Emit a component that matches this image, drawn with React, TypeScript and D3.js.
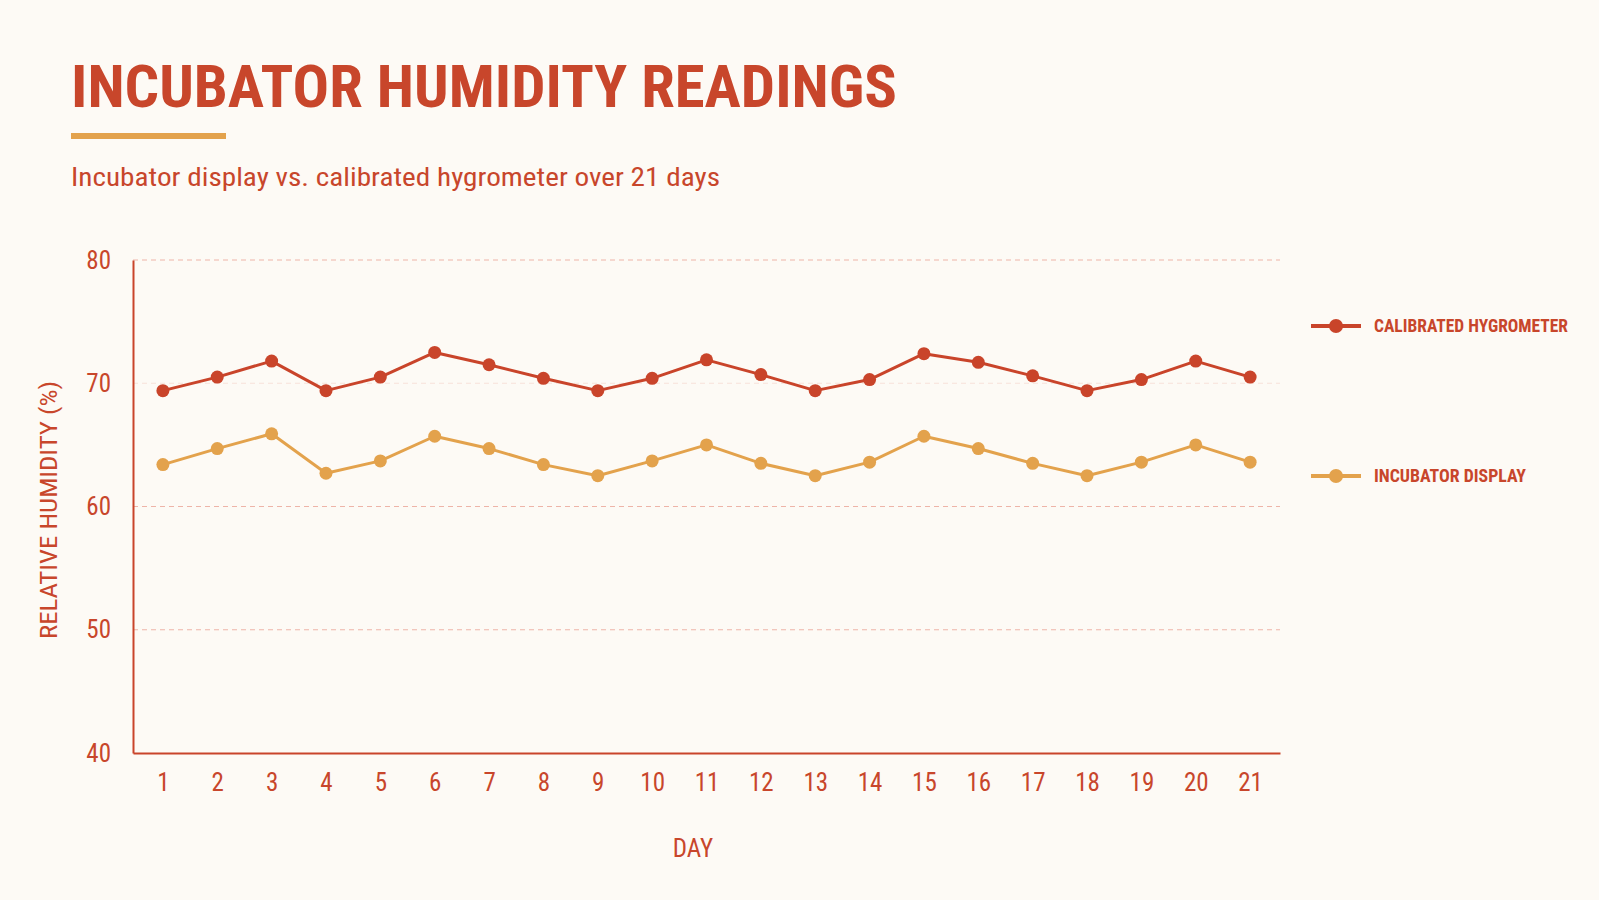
import { useEffect, useRef } from 'react'
import * as d3 from 'd3'

// values
const days = [1, 2, 3, 4, 5, 6, 7, 8, 9, 10, 11, 12, 13, 14, 15, 16, 17, 18, 19, 20, 21]
const hygrometer = [69.4, 70.5, 71.8, 69.4, 70.5, 72.5, 71.5, 70.4, 69.4, 70.4, 71.9, 70.7, 69.4, 70.3, 72.4, 71.7, 70.6, 69.4, 70.3, 71.8, 70.5]
const display = [63.4, 64.7, 65.9, 62.7, 63.7, 65.7, 64.7, 63.4, 62.5, 63.7, 65.0, 63.5, 62.5, 63.6, 65.7, 64.7, 63.5, 62.5, 63.6, 65.0, 63.6]
const yTicks = [40, 50, 60, 70, 80]
const seriesNames = ['CALIBRATED HYGROMETER', 'INCUBATOR DISPLAY']

const RED = '#c9442a'
const ORANGE = '#e3a24c'
const TEXT = '#c8462b'
const BG = '#fdfaf5'
const FONT = '"Roboto Condensed", "Liberation Sans Narrow", "DejaVu Sans Condensed", Roboto, sans-serif'

export default function App() {
  const svgRef = useRef<SVGSVGElement>(null)
  const width = 1599
  const height = 900

  useEffect(() => {
    document.body.style.margin = '0'
    document.body.style.background = BG
    if (!svgRef.current) return

    const svg = d3.select(svgRef.current)
    svg.selectAll('*').remove()

    const margin = { top: 260, right: 319, bottom: 147, left: 133 }
    const innerWidth = width - margin.left - margin.right
    const innerHeight = height - margin.top - margin.bottom

    svg.append('rect').attr('width', width).attr('height', height).attr('fill', BG)

    // header
    svg.append('text')
      .attr('x', 71).attr('y', 107)
      .attr('font-family', FONT).attr('font-weight', 700).attr('font-size', 60)
      .attr('fill', TEXT)
      .attr('textLength', 826).attr('lengthAdjust', 'spacingAndGlyphs')
      .text('INCUBATOR HUMIDITY READINGS')

    svg.append('rect')
      .attr('x', 71).attr('y', 133).attr('width', 155).attr('height', 6)
      .attr('fill', ORANGE)

    svg.append('text')
      .attr('x', 71).attr('y', 186)
      .attr('font-family', FONT).attr('font-size', 26)
      .attr('fill', TEXT)
      .attr('textLength', 649).attr('lengthAdjust', 'spacingAndGlyphs')
      .text('Incubator display vs. calibrated hygrometer over 21 days')

    const x = d3.scalePoint<number>()
      .domain(days)
      .range([0, innerWidth])
      .padding(0.55)

    const y = d3.scaleLinear()
      .domain([40, 80])
      .range([innerHeight, 0])

    const g = svg.append('g')
      .attr('transform', `translate(${margin.left},${margin.top})`)

    // grid
    g.selectAll('.grid')
      .data(yTicks.filter(t => t > 40))
      .enter().append('line')
      .attr('class', 'grid')
      .attr('x1', 0).attr('x2', innerWidth)
      .attr('y1', d => y(d)).attr('y2', d => y(d))
      .attr('stroke', '#eeb4a8')
      .attr('stroke-width', 1)
      .attr('stroke-dasharray', '5,4')
      .attr('opacity', d => (d === 70 ? 0.35 : 1))

    // axes
    const yAxis = g.append('g')
      .call(d3.axisLeft(y).tickValues(yTicks).tickSize(0).tickPadding(22))
    yAxis.select('.domain').attr('stroke', RED).attr('stroke-width', 2)
    yAxis.selectAll('text')
      .attr('font-family', FONT).attr('font-size', 25).attr('fill', TEXT)

    const xAxis = g.append('g')
      .attr('transform', `translate(0,${innerHeight})`)
      .call(d3.axisBottom(x).tickSize(0).tickPadding(20))
    xAxis.select('.domain').attr('stroke', RED).attr('stroke-width', 2)
    xAxis.selectAll('text')
      .attr('font-family', FONT).attr('font-size', 25).attr('fill', TEXT)

    g.append('text')
      .attr('transform', `translate(${49 - margin.left},${510 - margin.top}) rotate(-90)`)
      .attr('text-anchor', 'middle').attr('dominant-baseline', 'central')
      .attr('font-family', FONT).attr('font-size', 24).attr('fill', TEXT)
      .attr('textLength', 258).attr('lengthAdjust', 'spacingAndGlyphs')
      .text('RELATIVE HUMIDITY (%)')

    g.append('text')
      .attr('x', 693 - margin.left).attr('y', 857 - margin.top)
      .attr('text-anchor', 'middle')
      .attr('font-family', FONT).attr('font-size', 25).attr('fill', TEXT)
      .text('DAY')

    // series
    const series = [
      { name: seriesNames[0], values: hygrometer, color: RED },
      { name: seriesNames[1], values: display, color: ORANGE }
    ]

    const line = d3.line<number>()
      .x((_, i) => x(days[i]) as number)
      .y(d => y(d))

    series.forEach(s => {
      g.append('path')
        .datum(s.values)
        .attr('d', line)
        .attr('fill', 'none')
        .attr('stroke', s.color)
        .attr('stroke-width', 3)
        .attr('stroke-linejoin', 'round')

      g.selectAll(null)
        .data(s.values)
        .enter().append('circle')
        .attr('cx', (_, i) => x(days[i]) as number)
        .attr('cy', d => y(d))
        .attr('r', 6.5)
        .attr('fill', s.color)
    })

    // legend
    const legendY = [326, 476]
    series.forEach((s, i) => {
      const lg = svg.append('g').attr('transform', `translate(1311,${legendY[i]})`)
      lg.append('line')
        .attr('x1', 0).attr('x2', 50)
        .attr('stroke', s.color).attr('stroke-width', 4)
      lg.append('circle').attr('cx', 25).attr('r', 7).attr('fill', s.color)
      lg.append('text')
        .attr('x', 63).attr('dy', '0.35em')
        .attr('font-family', FONT).attr('font-weight', 700).attr('font-size', 18)
        .attr('fill', TEXT)
        .attr('textLength', i === 0 ? 194 : 152).attr('lengthAdjust', 'spacingAndGlyphs')
        .text(s.name)
    })
  }, [])

  return <svg ref={svgRef} width={width} height={height} style={{ display: 'block' }} />
}
